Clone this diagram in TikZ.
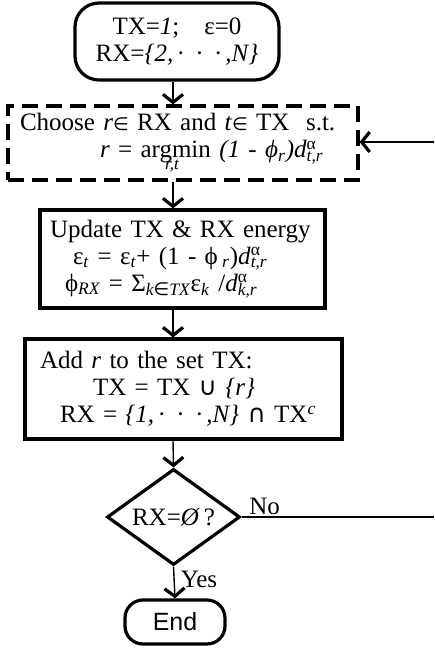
\documentclass[tikz,border=0pt]{standalone}
\usepackage{amsmath}
\usepackage{fontspec}
\setmainfont{Liberation Serif}
\setsansfont{Liberation Sans}
\newfontfamily\symfont{DejaVu Sans}
\usetikzlibrary{arrows.meta,shapes.geometric}
\newcommand{\dta}[1]{\textit{d}\rlap{\textsuperscript{α}}\textsubscript{\itshape #1}}
\newcommand{\inn}{{\symfont\small ∈}}
\newcommand{\cupop}{{\symfont ∪}}
\newcommand{\capop}{{\symfont ∩}}
\newcommand{\cdotrow}{·\enspace·\enspace·\,}

\begin{document}
\begin{tikzpicture}[
    x=0.5pt,y=-0.5pt,
    every node/.style={font=\fontsize{12.5}{13.5}\selectfont},
    box/.style={draw,line width=1.6pt,align=left,inner ysep=2pt},
    dashbox/.style={box,dash pattern=on 8pt off 4pt},
    decision/.style={draw,diamond,aspect=1.385,line width=1.6pt,inner sep=0pt,
    minimum width=66.5pt,minimum height=48pt},
    arr/.style={-{Straight Barb[length=4pt,width=10pt,line width=1.6pt]},line width=0.7pt},
    line/.style={line width=0.7pt}]
  \useasboundingbox (0,0) rectangle (434,648);
  \coordinate (col) at (173,0);
  \node[box,rounded corners=12pt,align=center,minimum width=102pt,minimum height=38.5pt] (start) at (177,41.5)
    {TX=\textit{1};\quad ε=0\\RX=\textit{\{2,\,\cdotrow,N\}}};
  \node[dashbox,text width=163pt,inner xsep=6pt,minimum height=37pt] (choose) at (183,143)
    {Choose \textit{r}\inn{} RX and \textit{t}\inn{} TX\ \ s.t.\\
    \hspace*{40pt}\textit{r} = arg\makebox[0pt]{\raisebox{-6pt}{\fontsize{8.5}{9}\selectfont\itshape r,t}}min \textit{(1 - ϕ\textsubscript{r})}\dta{t,r}};
  \node[box,text width=132.5pt,inner xsep=5pt,minimum height=49pt] (update) at (182.5,259)
    {Update TX \& RX energy\\
    \hspace*{11.5pt}ε\textsubscript{\itshape t} = ε\textsubscript{\itshape t}+ (1 - ϕ\,\textsubscript{\itshape r})\dta{t,r}\\
    \hspace*{7.5pt}ϕ\textsubscript{\itshape RX} = Σ\textsubscript{\itshape k\inn TX}ε\textsubscript{\itshape k} /\dta{k,r}};
  \node[box,text width=143.5pt,inner xsep=7.5pt,minimum height=50pt] (add) at (183.5,389)
    {Add \textit{r} to the set TX:\\
    \hspace*{26.5pt}TX = TX \cupop{} \textit{\{r\}}\\
    \hspace*{10pt}RX = \textit{\{1,\,\cdotrow,N\}} \capop{} TX\textsuperscript{\itshape c}};
  \node[decision] (test) at (173.5,517) {RX=\textit{Ø}\,?};
  \node[box,rounded corners=9pt,align=center,font=\sffamily\fontsize{12.5}{13.5}\selectfont,
    minimum width=50pt,minimum height=22pt] (stop) at (175,622) {End};
  \coordinate (back) at (434,142);
  \coordinate (noend) at (434,517);
  \draw[arr] (col |- start.south) -- (col |- choose.north);
  \draw[arr] (col |- choose.south) -- (col |- update.north);
  \draw[arr] (col |- update.south) -- (col |- add.north);
  \draw[arr] (col |- add.south) -- (test.north);
  \draw[arr] (test.south) -- node[right,pos=0.4,inner sep=3pt] {Yes} (stop.north);
  \draw[line] (test.east) -- node[above,pos=0.12,inner sep=1pt] {No} (noend);
  \draw[arr] (back) -- (choose.east |- back);
\end{tikzpicture}
\end{document}
